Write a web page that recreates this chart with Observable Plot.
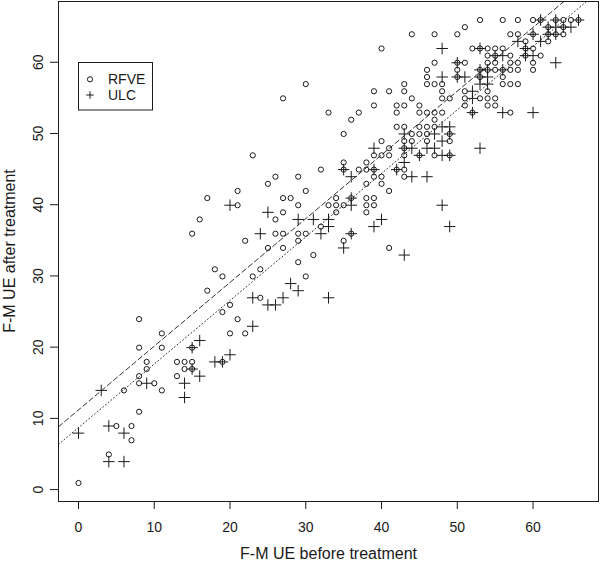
<!DOCTYPE html>
<html><head><meta charset="utf-8">
<script src="https://cdn.jsdelivr.net/npm/d3@7"></script>
<script src="https://cdn.jsdelivr.net/npm/@observablehq/plot@0.6"></script>
<style>body{margin:0;background:#fff} #chart svg{display:block}</style>
</head><body><div id="chart"></div>
<script>
// RFVE group: [before, after]
const rfve = [
[0,1],[4,5],[5,9],[7,9],[7,7],[6,14],[8,11],[8,24],[8,20],[8,16],[8,15],[9,18],[9,17],[10,15],[11,22],[11,20],[11,14],[13,16],[13,18],[14,18],[14,17],[15,18],[15,20],[15,17],[17,28],[19,18],[19,25],[20,26],[20,22],[21,24],[22,22],[24,27],
[19,30],[23,30],[18,31],[24,31],[30,30],[29,32],[31,33],[25,34],[27,34],[41,34],[22,35],[29,35],[35,35],[15,36],[26,36],[27,36],[29,36],[30,36],[36,36],[32,37],[16,38],[26,38],[27,39],[34,39],[38,39],
[21,40],[29,40],[33,40],[34,40],[35,40],[38,40],[39,40],[17,41],[27,41],[28,41],[34,41],[36,41],[38,41],[39,41],
[21,42],[30,42],[41,42],[25,43],[38,43],[40,43],[26,44],[29,44],[39,44],[40,44],[43,44],
[32,45],[35,45],[37,45],[38,45],[39,45],[42,45],[43,45],[35,46],[38,46],
[23,47],[39,47],[40,47],[41,47],[43,47],[45,47],[47,47],[49,47],
[41,48],[43,48],
[40,49],[43,49],[44,49],[46,49],[49,49],
[35,50],[44,50],[45,50],[46,50],[49,50],
[42,51],[43,51],[45,51],[46,51],[47,51],
[36,52],[47,52],
[33,53],[37,53],[42,53],[45,53],[46,53],[47,53],[48,53],[52,53],[57,53],
[39,54],[42,54],[43,54],[45,54],[51,54],[54,54],[55,54],
[27,55],[44,55],[48,55],[49,55],[51,55],[53,55],[54,55],[55,55],
[39,56],[41,56],[43,56],[48,56],[51,56],[54,56],
[30,57],[43,57],[46,57],[47,57],[48,57],[56,57],[57,57],[58,57],
[46,58],[50,58],[53,58],[56,58],
[46,59],[50,59],[53,59],[54,59],[55,59],[56,59],[57,59],[58,59],[60,59],
[47,60],[50,60],[51,60],[54,60],[55,60],[57,60],[58,60],[60,60],
[54,61],[55,61],[57,61],[59,61],[61,61],
[40,62],[52,62],[53,62],[54,62],[55,62],[56,62],[59,62],[60,62],
[59,63],[62,63],
[44,64],[47,64],[50,64],[57,64],[58,64],[60,64],[62,64],[63,64],[64,64],
[51,65],[62,65],[64,65],
[53,66],[56,66],[58,66],[60,66],[61,66],[63,66],[64,66],[65,66],[66,66]
];
// ULC group: [before, after]
const ulc = [
[0,8],[3,14],[4,9],[4,4],[6,8],[6,4],[9,15],[14,15],[14,13],[15,20],[15,17],[16,21],[16,16],[18,18],[19,18],[20,19],[23,23],[23,27],[25,26],[26,26],[27,27],[28,29],[29,28],[33,27],
[20,40],[25,39],[24,36],[29,38],[31,38],[33,38],[33,37],[32,36],[35,34],[36,36],[39,37],[40,38],[43,33],[49,37],[48,40],[36,41],[36,40],
[35,45],[39,45],[42,45],[36,44],[44,44],[46,44],[43,46],
[39,48],[43,48],[44,48],[46,48],[47,48],[53,48],
[45,47],[48,47],[49,47],
[48,49],
[43,50],[47,50],[49,50],
[48,51],[49,51],
[52,53],[56,53],[60,53],
[52,55],[52,56],
[53,57],[54,57],
[48,58],[50,58],[51,58],[53,58],[54,58],
[53,59],[54,59],[56,59],
[50,60],[63,60],
[55,61],[56,61],[59,61],[60,61],
[48,62],[53,62],[59,62],
[58,63],[61,63],
[60,64],[62,64],[63,64],
[62,65],[63,65],[64,65],[65,65],
[61,66],[63,66],[66,66]
];
const seriesNames = ["RFVE", "ULC"];
// fitted regression lines: [intercept, slope]
const fitRFVE = [11.26, 0.895];
const fitULC = [8.78, 0.892];
const xTicks = [0, 10, 20, 30, 40, 50, 60];
const yTicks = [0, 10, 20, 30, 40, 50, 60];
const xLabel = "F-M UE before treatment";
const yLabel = "F-M UE after treatment";

// R-style 4% domain expansion
const all = rfve.concat(ulc);
function rDomain(vals) {
  const [a, b] = d3.extent(vals);
  const p = (b - a) * 0.04;
  return [a - p, b + p];
}
const xDomain = rDomain(all.map(d => d[0]));
const yDomain = rDomain(all.map(d => d[1]));
const fitLine = fit => xDomain.map(x => ({x, y: fit[0] + fit[1] * x}));

const ink = "#1a1a1a";
const mL = 58;
const plot = Plot.plot({
  width: 600, height: 563,
  marginLeft: mL, marginRight: 2, marginTop: 1, marginBottom: 62,
  x: {domain: xDomain},
  y: {domain: yDomain, axis: null},
  style: {fontFamily: "'Liberation Sans', Arial, Helvetica, sans-serif", fontSize: "14px", background: "white", color: ink},
  marks: [
    Plot.frame({stroke: ink, strokeWidth: 1}),
    Plot.axisX({ticks: xTicks, tickSize: 8, tickPadding: 13, label: null, stroke: ink}),
    Plot.line(fitLine(fitRFVE), {x: "x", y: "y", stroke: ink, strokeWidth: 0.9, strokeDasharray: "5,3", clip: true}),
    Plot.line(fitLine(fitULC), {x: "x", y: "y", stroke: ink, strokeWidth: 0.9, strokeDasharray: "1,2.6", clip: true}),
    Plot.dot(rfve, {x: d => d[0], y: d => d[1], r: 2.6, symbol: "circle", fill: "none", stroke: ink, strokeWidth: 1}),
    Plot.dot(ulc, {x: d => d[0], y: d => d[1], r: 3.8, symbol: "plus", stroke: ink, strokeWidth: 1}),
    Plot.text([xLabel], {frameAnchor: "bottom", dy: 52, textAnchor: "middle", lineAnchor: "middle", fontSize: 16, fill: ink})
  ]
});

const svg = d3.select(plot);
const ys = plot.scale("y");

// y axis: outward ticks and R-style rotated tick labels, positioned by Plot's y scale
const yAxis = svg.append("g").attr("font-size", 14).attr("fill", ink).attr("text-anchor", "middle");
yTicks.forEach(t => {
  const py = ys.apply(t);
  yAxis.append("line").attr("x1", mL - 8).attr("x2", mL).attr("y1", py).attr("y2", py)
    .attr("stroke", ink).attr("stroke-width", 1);
  yAxis.append("text").attr("transform", `translate(${mL - 20},${py}) rotate(-90)`)
    .attr("dy", "0.35em").text(String(t));
});
// y axis title
const plotMid = (ys.apply(yDomain[0]) + ys.apply(yDomain[1])) / 2;
svg.append("text").attr("transform", `translate(${mL - 49},${plotMid}) rotate(-90)`)
  .attr("dy", "0.35em").attr("text-anchor", "middle").attr("font-size", 16).attr("fill", ink).text(yLabel);

// legend box (top-left inside the plot area)
const lg = svg.append("g").attr("font-size", 14).attr("fill", ink).attr("text-anchor", "start");
lg.append("rect").attr("x", 78.5).attr("y", 62.5).attr("width", 74).attr("height", 47.5)
  .attr("fill", "white").attr("stroke", ink).attr("stroke-width", 1);
seriesNames.forEach((name, i) => {
  const cy = 79.3 + i * 15.7;
  if (i === 0) {
    lg.append("circle").attr("cx", 90).attr("cy", cy).attr("r", 2.6).attr("fill", "none").attr("stroke", ink).attr("stroke-width", 1);
  } else {
    lg.append("path").attr("d", `M${90 - 3.8},${cy}H${90 + 3.8}M90,${cy - 3.8}V${cy + 3.8}`).attr("stroke", ink).attr("stroke-width", 1);
  }
  lg.append("text").attr("x", 108).attr("y", cy).attr("dy", "0.35em").attr("text-anchor", "start").text(name);
});

document.getElementById("chart").appendChild(plot);
</script>
</body></html>
